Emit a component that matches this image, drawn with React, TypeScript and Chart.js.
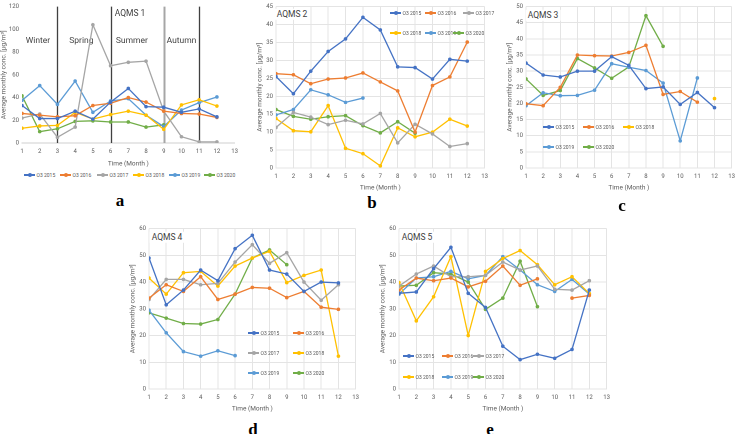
import React, { useEffect, useRef } from "react";
import { Chart, registerables } from "chart.js";
Chart.register(...registerables);

const FONT = "Roboto, 'Liberation Sans', sans-serif";
const TXT = "#595959";

const months = [1, 2, 3, 4, 5, 6, 7, 8, 9, 10, 11, 12];
const seriesLabels = ["O3 2015", "O3 2016", "O3 2017", "O3 2018", "O3 2019", "O3 2020"];
const seriesColors = ["#4472C4", "#ED7D31", "#A5A5A5", "#FFC000", "#5B9BD5", "#70AD47"];
const N = null;

// AQMS 1
const a2015 = [33, 21.5, 21.5, 28, 21, 36, 48, 32, 31.5, 27, 30, 23];
const a2016 = [26, 24.5, 23, 24, 33, 35, 40, 36, 28, 26, 25.5, 22.5];
const a2017 = [22, 25.5, 5, 14, 104, 68, 71, 72, 28, 5.5, 1, 1];
const a2018 = [13, 15, 15.5, 27, 21, 25, 28, 24.5, 12, 33.5, 38, 32.5];
const a2019 = [37.5, 50.5, 34, 54.5, 27, 37, 39, 24.5, 14.5, 29, 35.5, 40.5];
const a2020 = [41.5, 10, 12.5, 19, 19.5, 18.5, 18.5, 14, 16, N, N, N];
// AQMS 2
const b2015 = [25.5, 20.7, 27, 32.5, 36, 42, 38.5, 28.2, 28, 24.8, 30.3, 29.8];
const b2016 = [26.3, 26, 23.5, 24.8, 25.1, 26.5, 24, 21.5, 10, 23, 25.4, 35.1];
const b2017 = [11.3, 15.5, 14.2, 12.1, 13.3, 12.3, 15.2, 7, 12.2, 9.5, 6, 6.8];
const b2018 = [13.8, 10.4, 10.1, 17.4, 5.5, 4, 0.6, 11.2, 8.7, 10, 13.6, 11.7];
const b2019 = [14.8, 16.3, 21.8, 20.4, 18.3, 19.5, N, N, N, N, N, N];
const b2020 = [16.3, 14.4, 13.6, 14.3, 14.6, 11.8, 9.8, 12.9, 9.7, N, N, N];
// AQMS 3
const c2015 = [32.5, 28.8, 28.2, 30, 30, 34.5, 31.8, 24.6, 25.1, 19.7, 23.4, 18.7];
const c2016 = [19.9, 19.3, 25, 35, 34.8, 34.7, 35.8, 38, 22.8, 23.7, 20.4, N];
const c2018 = [N, N, N, N, N, N, N, N, N, N, N, 21.5];
const c2019 = [19.3, 23.3, 22.4, 22.5, 24.1, 32.3, 31.2, 30.2, 26.3, 8.4, 27.9, N];
const c2020 = [27.6, 22.5, 24, 33.9, 31, 27.8, 31.3, 47.2, 37.7, N, N, N];
// AQMS 4
const d2015 = [49, 31.5, 37, 44.5, 40.5, 52.5, 57.5, 44.5, 43, 36.5, 40, 39.7];
const d2016 = [34, 39, 36.5, 42, 33.5, 35.5, 38, 37.7, 34.2, 36.5, 30.6, 29.8];
const d2017 = [33.5, 41, 41, 39, 39.5, 47.5, 54, 47, 51, 40, 33.2, 39];
const d2018 = [41.5, 35.5, 43.5, 44, 38.5, 46, 49, 51.5, 39.8, 42.5, 44.5, 12.3];
const d2019 = [29.5, 21, 14, 12.3, 14.3, 12.5, N, N, N, N, N, N];
const d2020 = [28.5, 26.5, 24.5, 24.3, 26, 35.5, 49, 52, 46.5, N, N, N];
// AQMS 5
const e2015 = [35.8, 36.3, 45, 53, 35.8, 30.5, 16, 11, 13, 11.5, 14.8, 37];
const e2016 = [37, 41.5, 40.5, 41.5, 38.2, 40.3, 46, 38.8, 41.2, N, 34, 35];
const e2017 = [38.5, 43, 46, 42, 42, 42.5, 47.5, 44.5, 46, 37.3, 37, 40.5];
const e2018 = [39.8, 25.5, 34.5, 49.5, 20, 44, 48.8, 51.8, 46.5, 39, 42, 35.7];
const e2019 = [35.5, 41.5, 42, 44, 41.2, 42.5, 49.5, 44.5, 39, 36.5, 41, 35.5];
const e2020 = [38.5, 38.8, 43.5, 43, 40, 29.8, 34, 47.8, 30.8, N, N, N];

const seasonLines = [3, 6, 9, 11];
const seasonNames = ["Winter", "Spring", "Summer", "Autumn"];
const seasonX = [1.9, 4.35, 7.2, 10];

type Series = { idx: number; values: (number | null)[] };
type PanelCfg = {
  plot: [number, number, number, number];
  yw: number;
  xh: number;
  padTop: number;
  padRight: number;
  yMax: number;
  yStep: number;
  grid: boolean;
  series: Series[];
  seasons?: boolean;
};

const seasonPlugin = {
  id: "seasons",
  beforeDatasetsDraw(chart: any, _a: any, opts: any) {
    if (!opts || !opts.on) return;
    const { ctx, scales, chartArea } = chart;
    ctx.save();
    seasonLines.forEach((v) => {
      const px = Math.round(scales.x.getPixelForValue(v)) + 0.5;
      ctx.strokeStyle = v === 9 ? "#a6a6a6" : "#404040";
      ctx.lineWidth = v === 9 ? 2 : 1.3;
      ctx.beginPath();
      ctx.moveTo(px, chartArea.top);
      ctx.lineTo(px, chartArea.bottom);
      ctx.stroke();
    });
    ctx.fillStyle = "#404040";
    ctx.font = `8.5px ${FONT}`;
    ctx.textAlign = "center";
    ctx.textBaseline = "middle";
    seasonNames.forEach((n, i) => {
      ctx.fillText(n, scales.x.getPixelForValue(seasonX[i]), scales.y.getPixelForValue(90));
    });
    ctx.restore();
  },
};

function Panel({ cfg }: { cfg: PanelCfg }) {
  const ref = useRef<HTMLCanvasElement>(null);
  const [l, t, r, b] = cfg.plot;
  const left = l - cfg.yw;
  const top = t - cfg.padTop;
  const width = r + cfg.padRight - left;
  const height = b + cfg.xh - top;
  useEffect(() => {
    if (!ref.current) return;
    const gridColor = "#e4e4e4";
    const chart = new Chart(ref.current, {
      type: "line",
      data: {
        datasets: cfg.series.map((s) => ({
          label: seriesLabels[s.idx],
          data: months.map((m, i) => ({ x: m, y: s.values[i] })) as any,
          borderColor: seriesColors[s.idx],
          backgroundColor: seriesColors[s.idx],
          borderWidth: 1.3,
          pointRadius: 1.8,
          pointBorderWidth: 0,
          pointHoverRadius: 1.8,
          tension: 0,
          spanGaps: false,
        })),
      },
      options: {
        animation: false,
        responsive: false,
        devicePixelRatio: 2,
        layout: { padding: { top: cfg.padTop, right: cfg.padRight, left: 0, bottom: 0 } },
        plugins: {
          legend: { display: false },
          tooltip: { enabled: false },
          seasons: { on: !!cfg.seasons },
        } as any,
        scales: {
          x: {
            type: "linear",
            min: 1,
            max: 13,
            ticks: {
              stepSize: 1,
              autoSkip: false,
              maxRotation: 0,
              font: { size: 6, family: FONT },
              color: TXT,
              padding: 5,
            },
            grid: { display: cfg.grid, color: gridColor, drawTicks: false },
            border: { display: true, color: cfg.grid ? gridColor : "#cfcfcf" },
            title: {
              display: true,
              text: "Time (Month )",
              font: { size: 6.5, family: FONT },
              color: TXT,
              padding: { top: 2, bottom: 0 },
            },
            afterFit: (s: any) => {
              s.height = cfg.xh;
            },
          },
          y: {
            min: 0,
            max: cfg.yMax,
            ticks: {
              stepSize: cfg.yStep,
              font: { size: 6, family: FONT },
              color: TXT,
              padding: 3,
            },
            grid: { display: cfg.grid, color: gridColor, drawTicks: false },
            border: { display: false },
            title: {
              display: true,
              text: "Average monthly conc. [µg/m³]",
              font: { size: 6.5, family: FONT },
              color: TXT,
              padding: { top: 0, bottom: 1 },
            },
            afterFit: (s: any) => {
              s.width = cfg.yw;
            },
          },
        },
      },
      plugins: [seasonPlugin as any],
    });
    return () => chart.destroy();
  }, []);
  return (
    <canvas
      ref={ref}
      width={width}
      height={height}
      style={{ position: "absolute", left, top, width, height }}
    />
  );
}

function LegendItem({ x, y, idx }: { x: number; y: number; idx: number }) {
  const c = seriesColors[idx];
  return (
    <div
      style={{
        position: "absolute",
        left: x,
        top: y - 4,
        height: 8,
        display: "flex",
        alignItems: "center",
        whiteSpace: "nowrap",
      }}
    >
      <div style={{ position: "relative", width: 11, height: 1.4, background: c }}>
        <div
          style={{
            position: "absolute",
            left: 3.5,
            top: -1.3,
            width: 4,
            height: 4,
            borderRadius: 2,
            background: c,
          }}
        />
      </div>
      <span style={{ fontSize: 5, color: TXT, marginLeft: 1.5, fontFamily: FONT }}>
        {seriesLabels[idx]}
      </span>
    </div>
  );
}

function Label({ x, y, text, size, bold, serif, bg }: any) {
  return (
    <div
      style={{
        position: "absolute",
        left: x,
        top: y,
        transform: "translate(-50%, -50%)",
        fontSize: size,
        fontWeight: bold ? 700 : 400,
        fontFamily: serif ? "'Liberation Serif', 'DejaVu Serif', serif" : FONT,
        color: serif ? "#000" : "#404040",
        background: bg ? "#fff" : "transparent",
        padding: bg ? "1px 2px" : 0,
        whiteSpace: "nowrap",
        lineHeight: 1,
      }}
    >
      {text}
    </div>
  );
}

const panels: PanelCfg[] = [
  {
    plot: [22, 5, 237, 143], yw: 22, xh: 25, padTop: 5, padRight: 6,
    yMax: 120, yStep: 20, grid: false, seasons: true,
    series: [a2015, a2016, a2017, a2018, a2019, a2020].map((v, i) => ({ idx: i, values: v })),
  },
  {
    plot: [276, 5, 487, 168], yw: 20, xh: 24, padTop: 5, padRight: 6,
    yMax: 45, yStep: 5, grid: true,
    series: [b2015, b2016, b2017, b2018, b2019, b2020].map((v, i) => ({ idx: i, values: v })),
  },
  {
    plot: [526, 5, 734, 168], yw: 20, xh: 24, padTop: 5, padRight: 6,
    yMax: 50, yStep: 5, grid: true,
    series: [
      { idx: 0, values: c2015 },
      { idx: 1, values: c2016 },
      { idx: 3, values: c2018 },
      { idx: 4, values: c2019 },
      { idx: 5, values: c2020 },
    ],
  },
  {
    plot: [149, 228, 358, 389], yw: 20, xh: 24, padTop: 6, padRight: 6,
    yMax: 60, yStep: 10, grid: true,
    series: [d2015, d2016, d2017, d2018, d2019, d2020].map((v, i) => ({ idx: i, values: v })),
  },
  {
    plot: [399, 228, 609, 389], yw: 20, xh: 24, padTop: 6, padRight: 6,
    yMax: 60, yStep: 10, grid: true,
    series: [e2015, e2016, e2017, e2018, e2019, e2020].map((v, i) => ({ idx: i, values: v })),
  },
];

const legends: [number, number, number][] = [
  // panel a
  [24, 175, 0], [60, 175, 1], [97, 175, 2], [133, 175, 3], [169, 175, 4], [204, 175, 5],
  // panel b
  [390, 13, 0], [425, 13, 1], [463, 13, 2], [390, 33, 3], [425, 33, 4], [453, 33, 5],
  // panel c
  [543, 127, 0], [583, 127, 1], [623, 127, 3], [543, 147, 4], [583, 147, 5],
  // panel d
  [248, 333, 0], [293, 333, 1], [248, 353, 2], [293, 353, 3], [248, 373, 4], [293, 373, 5],
  // panel e
  [403, 356, 0], [442, 356, 1], [473, 356, 2], [403, 377, 3], [442, 377, 4], [473, 377, 5],
];

export default function App() {
  return (
    <div style={{ position: "absolute", left: 0, top: 0, width: 741, height: 434, background: "#fff", overflow: "hidden" }}>
      {panels.map((p, i) => (
        <Panel key={i} cfg={p} />
      ))}
      {legends.map(([x, y, idx], i) => (
        <LegendItem key={i} x={x} y={y} idx={idx} />
      ))}
      <Label x={130} y={13} text="AQMS 1" size={8.5} />
      <Label x={292} y={14} text="AQMS 2" size={8.5} bg />
      <Label x={543} y={15} text="AQMS 3" size={8.5} bg />
      <Label x={167} y={237} text="AQMS 4" size={8.5} bg />
      <Label x={417} y={237} text="AQMS 5" size={8.5} bg />
      <Label x={120} y={200} text="a" size={17} bold serif />
      <Label x={372} y={202} text="b" size={17} bold serif />
      <Label x={622} y={205} text="c" size={17} bold serif />
      <Label x={253} y={429} text="d" size={17} bold serif />
      <Label x={490} y={429} text="e" size={17} bold serif />
    </div>
  );
}
